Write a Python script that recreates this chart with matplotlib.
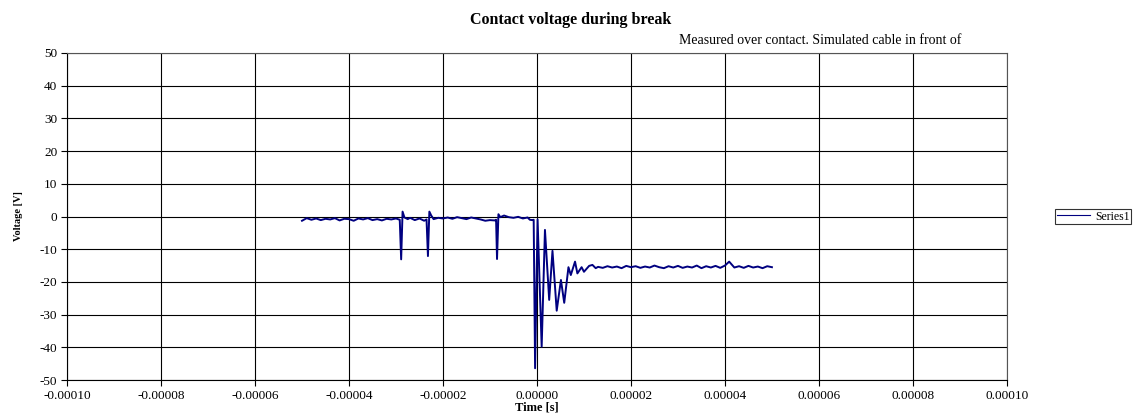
import matplotlib.pyplot as plt
import numpy as np

# time in microseconds, voltage in V
t_pre = [-50, -49, -48, -47, -46, -45, -44, -43, -42, -41, -40, -39, -38, -37,
         -36, -35, -34, -33, -32, -31, -30, -29.2, -28.9, -28.6, -28.2, -27.5,
         -27, -26, -25, -24, -23.5, -23.2, -22.9, -22.5, -22, -21, -20, -19,
         -18, -17, -16, -15, -14, -13, -12, -11, -10, -9, -8.7, -8.5, -8.2,
         -7.8, -7, -6, -5, -4, -3, -2, -1.5, -1.0, -0.7]
v_pre = [-1.3, -0.5, -1.0, -0.6, -1.1, -0.7, -0.9, -0.5, -1.2, -0.7, -0.8, -1.3,
         -0.6, -0.9, -0.5, -1.1, -0.8, -1.2, -0.7, -0.9, -0.6, -1.0, -13.1, 1.5,
         -0.3, -0.8, -0.4, -1.1, -0.6, -1.3, -0.9, -12.1, 1.5, 0.3, -0.8, -0.4,
         -0.6, -0.3, -0.7, -0.2, -0.5, -0.8, -0.3, -0.6, -0.9, -1.3, -1.1, -1.2,
         -1.0, -13.0, 0.7, -0.2, 0.3, -0.2, -0.4, -0.1, -0.6, -0.3, -1.0, -1.1,
         -1.0]

t_break = [-0.4, 0.13, 1.0, 1.7, 2.6, 3.3, 4.2, 5.1, 5.8, 6.7, 7.2, 8.1, 8.6,
           9.5, 10.0, 11.1, 11.8, 12.5]
v_break = [-46.4, -0.9, -39.8, -4.1, -25.5, -10.5, -28.8, -19.4, -26.4, -15.5,
           -17.9, -13.8, -17.4, -15.5, -16.9, -15.1, -14.8, -15.8]

t_post = [13, 14, 15, 16, 17, 18, 19, 20, 21, 22, 23, 24, 25, 26, 27, 28, 29,
          30, 31, 32, 33, 34, 35, 36, 37, 38, 39, 40, 40.9, 42, 43, 44, 45, 46,
          47, 48, 49, 50]
v_post = [-15.4, -15.7, -15.2, -15.6, -15.3, -15.8, -15.1, -15.5, -15.2, -15.7,
          -15.3, -15.6, -15.0, -15.5, -15.8, -15.2, -15.6, -15.1, -15.7, -15.3,
          -15.6, -15.0, -15.8, -15.2, -15.6, -15.1, -15.7, -15.0, -13.8, -15.6,
          -15.2, -15.7, -15.1, -15.6, -15.3, -15.8, -15.2, -15.5]

time_us = np.array(t_pre + t_break + t_post)
voltage = np.array(v_pre + v_break + v_post)

x_ticks = [-0.0001, -0.00008, -0.00006, -0.00004, -0.00002, 0.0, 0.00002,
           0.00004, 0.00006, 0.00008, 0.0001]
y_ticks = [-50, -40, -30, -20, -10, 0, 10, 20, 30, 40, 50]

plt.rcParams['font.family'] = ['Liberation Serif', 'DejaVu Serif']
plt.rcParams['axes.unicode_minus'] = False

fig = plt.figure(figsize=(11.42, 4.15), dpi=100)
ax = fig.add_axes([0.0587, 0.0843, 0.823, 0.788])

ax.plot(time_us * 1e-6, voltage, color='#000080', lw=1.4, label='Series1')

ax.set_xlim(-0.0001, 0.0001)
ax.set_ylim(-50, 50)
ax.set_xticks(x_ticks)
ax.set_xticklabels([f'{v:.5f}' for v in x_ticks])
ax.set_yticks(y_ticks)
ax.tick_params(labelsize=9.5, length=4, width=0.8, color='black', pad=3)
ax.grid(True, color='black', lw=0.8)
for s in ax.spines.values():
    s.set_color('#555555')
ax.spines['left'].set_color('black')
ax.spines['bottom'].set_color('black')

ax.set_xlabel('Time [s]', fontsize=9, fontweight='bold', labelpad=0)
ax.set_ylabel('Voltage [V]', fontsize=7.5, fontweight='bold', labelpad=12)

fig.text(0.5, 0.952, 'Contact voltage during break', ha='center', va='center',
         fontsize=11.5, fontweight='bold')
fig.text(0.8415, 0.902, 'Measured over contact. Simulated cable in front of',
         ha='right', va='center', fontsize=10)

leg = fig.legend(loc='center left', bbox_to_anchor=(0.919, 0.478), fontsize=8.5,
                 frameon=True, fancybox=False, handlelength=2.8,
                 borderpad=0.15, handletextpad=0.4)
leg.get_frame().set_edgecolor('black')
leg.get_frame().set_linewidth(0.8)
leg.get_lines()[0].set_linewidth(0.8)

fig.savefig('out.png', dpi=100)
